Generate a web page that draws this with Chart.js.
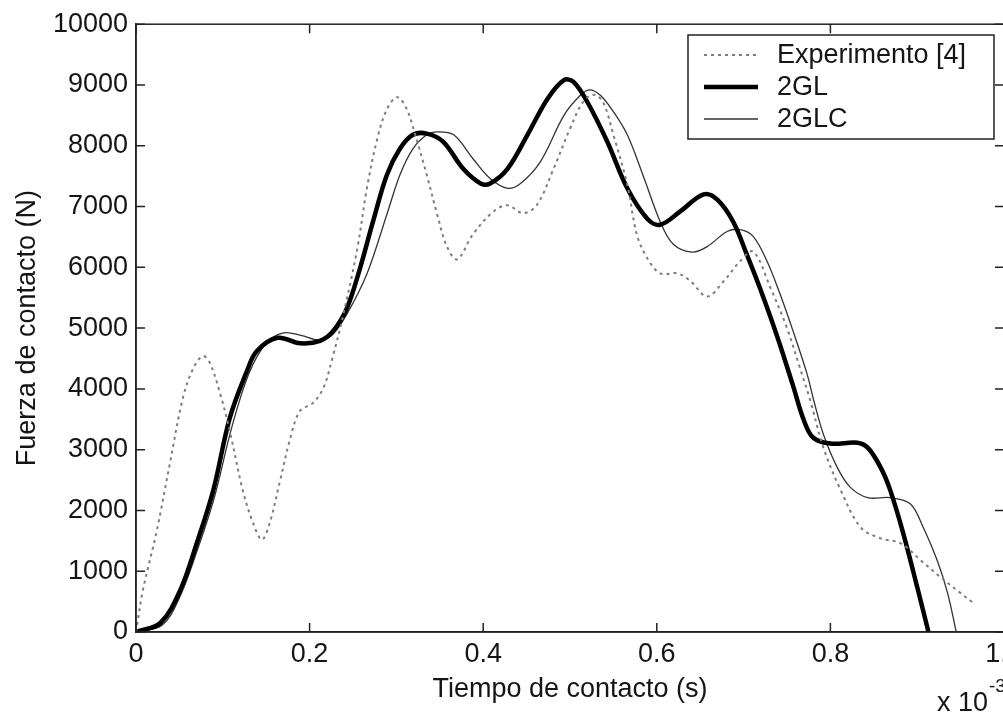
<!DOCTYPE html>
<html>
<head>
<meta charset="utf-8">
<script src="https://cdn.jsdelivr.net/npm/chart.js@4.4.1/dist/chart.umd.min.js"></script>
<style>
    html, body { margin: 0; padding: 0; background: #fff; overflow: hidden; }
    #wrap { width: 1003px; height: 713px; overflow: hidden; }
</style>
</head>
<body>
<div id="wrap"><canvas id="contactChart" width="1040" height="713"></canvas></div>
<script>
// tiempo en ms (eje x 10^-3 s), fuerza en N
var expTime = [0, 0.008, 0.024, 0.039, 0.054, 0.066, 0.077, 0.085, 0.097, 0.108, 0.123, 0.135, 0.145, 0.154, 0.166, 0.178, 0.189, 0.204, 0.216, 0.226, 0.239, 0.255, 0.266, 0.278, 0.289, 0.301, 0.312, 0.324, 0.335, 0.347, 0.358, 0.370, 0.388, 0.412, 0.428, 0.446, 0.462, 0.481, 0.500, 0.515, 0.527, 0.538, 0.550, 0.566, 0.577, 0.589, 0.604, 0.624, 0.639, 0.658, 0.677, 0.696, 0.711, 0.731, 0.750, 0.765, 0.777, 0.792, 0.812, 0.835, 0.858, 0.881, 0.904, 0.927, 0.950, 0.965];
var expForce = [0, 690, 1670, 2770, 3850, 4340, 4540, 4430, 3920, 3310, 2330, 1790, 1520, 1790, 2490, 3200, 3640, 3770, 4020, 4490, 5230, 6310, 7300, 8115, 8600, 8800, 8600, 8065, 7520, 6870, 6350, 6130, 6540, 6920, 7020, 6890, 7030, 7620, 8280, 8720, 8840, 8720, 8180, 7360, 6540, 6150, 5900, 5900, 5770, 5520, 5770, 6100, 6260, 5660, 5000, 4340, 3800, 3030, 2330, 1720, 1540, 1460, 1180, 900, 640, 475];

var glTime = [0, 0.028, 0.051, 0.070, 0.089, 0.108, 0.128, 0.139, 0.163, 0.189, 0.212, 0.227, 0.243, 0.258, 0.273, 0.289, 0.304, 0.319, 0.335, 0.354, 0.377, 0.397, 0.408, 0.428, 0.451, 0.474, 0.493, 0.504, 0.520, 0.543, 0.566, 0.589, 0.604, 0.627, 0.654, 0.670, 0.688, 0.704, 0.719, 0.739, 0.757, 0.769, 0.780, 0.800, 0.831, 0.843, 0.858, 0.869, 0.884, 0.900, 0.913];
var glForce = [0, 148, 690, 1460, 2330, 3520, 4300, 4620, 4840, 4750, 4790, 4950, 5330, 5980, 6750, 7520, 7950, 8180, 8200, 8065, 7620, 7380, 7380, 7620, 8180, 8770, 9080, 9050, 8720, 8065, 7300, 6800, 6700, 6920, 7200, 7110, 6750, 6200, 5650, 4850, 4050, 3500, 3200, 3100, 3115, 3033, 2705, 2330, 1620, 740, 0];

var glcTime = [0, 0.030, 0.050, 0.070, 0.090, 0.110, 0.130, 0.150, 0.170, 0.190, 0.212, 0.227, 0.243, 0.266, 0.289, 0.304, 0.319, 0.335, 0.347, 0.366, 0.388, 0.408, 0.428, 0.443, 0.466, 0.493, 0.512, 0.523, 0.535, 0.550, 0.566, 0.584, 0.604, 0.619, 0.641, 0.658, 0.681, 0.696, 0.711, 0.727, 0.742, 0.757, 0.773, 0.781, 0.792, 0.808, 0.823, 0.843, 0.869, 0.892, 0.907, 0.923, 0.935, 0.945];
var glcForce = [0, 110, 560, 1320, 2200, 3350, 4250, 4750, 4920, 4880, 4800, 4900, 5230, 5890, 6870, 7520, 7950, 8180, 8230, 8180, 7790, 7460, 7300, 7380, 7740, 8500, 8830, 8920, 8830, 8560, 8180, 7520, 6750, 6380, 6250, 6340, 6590, 6620, 6510, 6100, 5560, 4950, 4250, 3800, 3250, 2705, 2380, 2210, 2210, 2110, 1720, 1180, 640, 0];

var seriesLabels = ['Experimento [4]', '2GL', '2GLC'];
var xTickStep = 0.2;
var yTickStep = 1000;

var FONT = '"Liberation Sans", Arial, sans-serif';
var TEXT_COLOR = '#151515';

function toPoints(xs, ys) {
    var pts = [];
    for (var i = 0; i < xs.length; i++) {
        pts.push({x: xs[i], y: ys[i]});
    }
    return pts;
}

// caja cerrada con marcas hacia dentro, como en matlab
var axisBox = {
    id: 'axisBox',
    afterDraw: function (chart) {
        var ctx = chart.ctx, a = chart.chartArea;
        var xs = chart.scales.x, ys = chart.scales.y;
        var len = 9;
        ctx.save();
        ctx.strokeStyle = '#222';
        ctx.lineWidth = 1.5;
        ctx.strokeRect(a.left, a.top, a.right - a.left, a.bottom - a.top);
        ctx.beginPath();
        xs.ticks.forEach(function (t) {
            var px = xs.getPixelForValue(t.value);
            ctx.moveTo(px, a.bottom); ctx.lineTo(px, a.bottom - len);
            ctx.moveTo(px, a.top); ctx.lineTo(px, a.top + len);
        });
        ys.ticks.forEach(function (t) {
            var py = ys.getPixelForValue(t.value);
            ctx.moveTo(a.left, py); ctx.lineTo(a.left + len, py);
            ctx.moveTo(a.right, py); ctx.lineTo(a.right - len, py);
        });
        ctx.stroke();

        // multiplicador del eje x
        ctx.fillStyle = TEXT_COLOR;
        ctx.textBaseline = 'alphabetic';
        ctx.textAlign = 'left';
        ctx.font = '27px ' + FONT;
        ctx.fillText('x 10', 937, 711);
        var w = ctx.measureText('x 10').width;
        ctx.font = '19px ' + FONT;
        ctx.fillText('-3', 937 + w + 1, 692);
        ctx.restore();
    }
};

// leyenda dentro del area, arriba a la derecha
var boxLegend = {
    id: 'boxLegend',
    afterDraw: function (chart) {
        var ctx = chart.ctx;
        var bx = 688, by = 35, bw = 306, bh = 104;
        var rows = [55, 87, 119];
        ctx.save();
        ctx.fillStyle = '#fff';
        ctx.fillRect(bx, by, bw, bh);
        ctx.strokeStyle = '#222';
        ctx.lineWidth = 1.5;
        ctx.strokeRect(bx, by, bw, bh);
        chart.data.datasets.forEach(function (ds, i) {
            ctx.beginPath();
            ctx.strokeStyle = ds.borderColor;
            ctx.lineWidth = ds.borderWidth;
            ctx.setLineDash(ds.borderDash || []);
            ctx.moveTo(704, rows[i]);
            ctx.lineTo(758, rows[i]);
            ctx.stroke();
            ctx.setLineDash([]);
            ctx.fillStyle = TEXT_COLOR;
            ctx.font = '27px ' + FONT;
            ctx.textBaseline = 'middle';
            ctx.textAlign = 'left';
            ctx.fillText(ds.label, 777, rows[i] + 1);
        });
        ctx.restore();
    }
};

var ctx = document.getElementById('contactChart');
var contactChart = new Chart(ctx, {
    type: 'line',
    data: {
        datasets: [
            {
                label: seriesLabels[0],
                data: toPoints(expTime, expForce),
                borderColor: '#7d7d7d',
                borderWidth: 2,
                borderDash: [3, 4],
                pointRadius: 0,
                tension: 0.35,
                fill: false
            },
            {
                label: seriesLabels[1],
                data: toPoints(glTime, glForce),
                borderColor: '#000',
                borderWidth: 4.5,
                pointRadius: 0,
                tension: 0.35,
                fill: false
            },
            {
                label: seriesLabels[2],
                data: toPoints(glcTime, glcForce),
                borderColor: '#333',
                borderWidth: 1.3,
                pointRadius: 0,
                tension: 0.35,
                fill: false
            }
        ]
    },
    options: {
        responsive: false,
        animation: false,
        devicePixelRatio: 1,
        layout: {padding: {top: 22, right: 36, left: 0, bottom: 0}},
        plugins: {
            legend: {display: false},
            tooltip: {enabled: false}
        },
        scales: {
            x: {
                type: 'linear',
                min: 0,
                max: 1,
                ticks: {
                    stepSize: xTickStep,
                    padding: 6,
                    color: TEXT_COLOR,
                    font: {family: FONT, size: 27},
                    maxRotation: 0
                },
                grid: {display: false, drawTicks: false},
                border: {display: true, color: '#222', width: 1.5},
                title: {
                    display: true,
                    text: 'Tiempo de contacto (s)',
                    color: TEXT_COLOR,
                    font: {family: FONT, size: 27},
                    padding: {top: 0, bottom: 7}
                },
                afterFit: function (scale) { scale.height = 81; }
            },
            y: {
                type: 'linear',
                min: 0,
                max: 10000,
                ticks: {
                    stepSize: yTickStep,
                    padding: 8,
                    color: TEXT_COLOR,
                    font: {family: FONT, size: 27},
                    callback: function (v) { return String(v); }
                },
                grid: {display: false, drawTicks: false},
                border: {display: true, color: '#222', width: 1.5},
                title: {
                    display: true,
                    text: 'Fuerza de contacto (N)',
                    color: TEXT_COLOR,
                    font: {family: FONT, size: 27},
                    padding: {top: 11, bottom: 0}
                },
                afterFit: function (scale) { scale.width = 136; }
            }
        }
    },
    plugins: [axisBox, boxLegend]
});
</script>
</body>
</html>
